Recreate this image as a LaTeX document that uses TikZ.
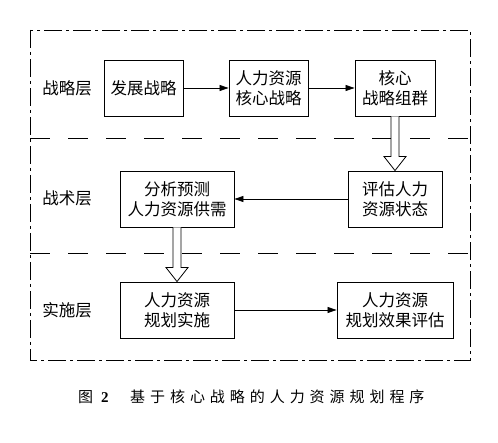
\documentclass[tikz,border=0pt]{standalone}
\usepackage{fontspec}
\setmainfont{Liberation Serif}
\newfontfamily\cjk{Noto Sans CJK SC}
\newfontfamily\capcjk[LetterSpace=33]{Noto Sans CJK SC}
\usetikzlibrary{arrows.meta,calc}
\begin{document}
\begin{tikzpicture}[x=1pt,y=-1pt,
  box/.style={draw,line width=0.9pt,minimum height=56pt,align=center,inner sep=2pt,font=\cjk\fontsize{16.5}{20}\selectfont},
  lbl/.style={font=\cjk\fontsize{16.5}{20}\selectfont},
  arr/.style={line width=0.8pt,-{Triangle[length=9pt,width=6pt]}},
  hollow/.style={draw,fill=white,line width=0.8pt,line join=miter},
  sep/.style={line width=0.8pt,dash pattern=on 20pt off 18pt},
  frame/.style={line width=0.8pt,dash pattern=on 18pt off 4pt on 3pt off 4pt}]
\useasboundingbox (0,0) rectangle (498,443);
% outer frame
\draw[frame] (30,30) rectangle (470,360);
\draw[sep] (30,138) -- (470,138);
\draw[sep] (30,253) -- (470,253);
% layer labels
\node[lbl] (l1) at (67,88) {战略层};
\node[lbl] (l2) at (67,198) {战术层};
\node[lbl] (l3) at (67,310) {实施层};
% boxes
\node[box,minimum width=79pt] (a1) at (143.5,88) {发展战略};
\node[box,minimum width=79pt] (a2) at (268.5,88) {人力资源\\核心战略};
\node[box,minimum width=80pt] (a3) at (395,88) {核心\\战略组群};
\node[box,minimum width=114pt] (b1) at (177,199) {分析预测\\人力资源供需};
\node[box,minimum width=94pt] (b2) at (395,199) {评估人力\\资源状态};
\node[box,minimum width=114pt] (c1) at (177,310) {人力资源\\规划实施};
\node[box,minimum width=116pt] (c2) at (395,310) {人力资源\\规划效果评估};
% arrows
\draw[arr] (a1) -- (a2);
\draw[arr] (a2) -- (a3);
\draw[arr] (b2) -- (b1);
\draw[arr] (c1) -- (c2);
% hollow arrows
\draw[hollow] ($(a3.south)+(-4,0)$) -- ($(b2.north)+(-4,-14)$) -- ($(b2.north)+(-11,-14)$) -- (b2.north) -- ($(b2.north)+(11,-14)$) -- ($(b2.north)+(4,-14)$) -- ($(a3.south)+(4,0)$);
\draw[hollow] ($(b1.south)+(-4,0)$) -- ($(c1.north)+(-4,-14)$) -- ($(c1.north)+(-11,-14)$) -- (c1.north) -- ($(c1.north)+(11,-14)$) -- ($(c1.north)+(4,-14)$) -- ($(b1.south)+(4,0)$);
% caption
\node[font=\cjk\fontsize{15}{17}\selectfont,anchor=west,inner sep=0pt] (cap1) at (78,397) {图\hspace{8pt}{\rmfamily\bfseries 2}};
\node[font=\capcjk\fontsize{15}{17}\selectfont,anchor=west,inner sep=0pt] (cap2) at (130,397) {基于核心战略的人力资源规划程序};
\end{tikzpicture}
\end{document}
